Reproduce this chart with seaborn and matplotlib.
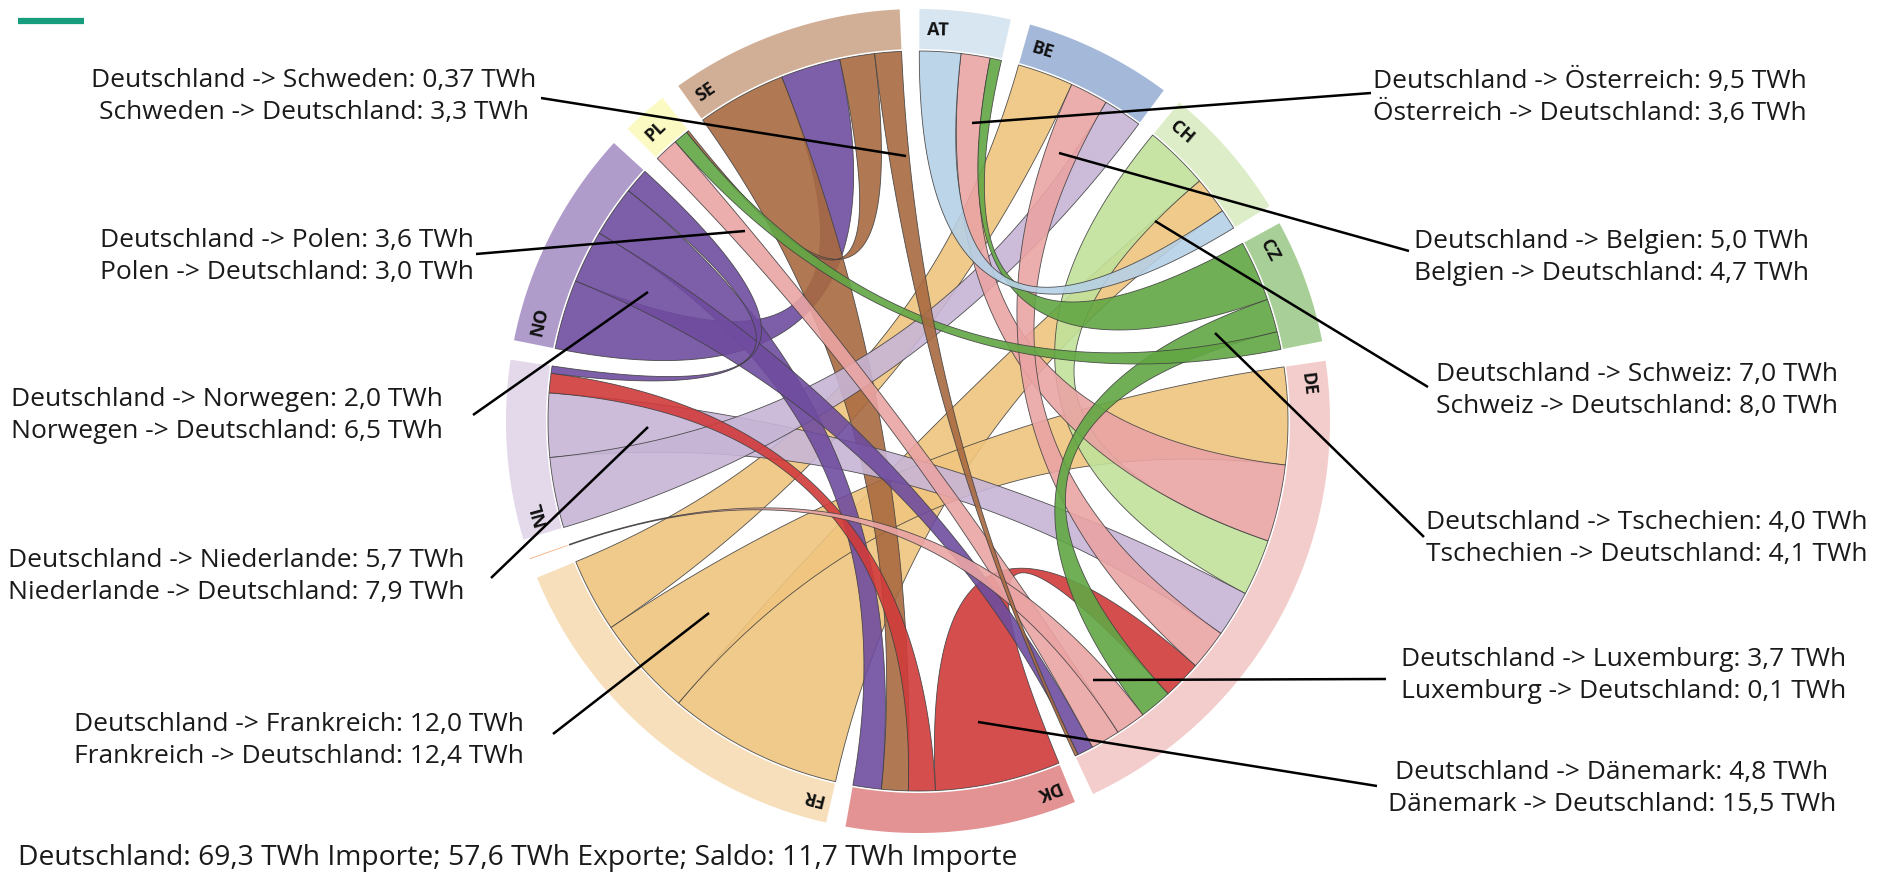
import numpy as np
import matplotlib
matplotlib.use("Agg")
import matplotlib.pyplot as plt
import seaborn as sns

# DATA: physical exports between the countries (TWh), one entry per direction.
# The order of the entries per exporting country is the order of the ribbons on its ring.
countries = ["AT", "BE", "CH", "CZ", "DE", "DK", "FR", "LU", "NL", "NO", "PL", "SE"]

flow_from = ["AT", "AT", "AT",
             "BE", "BE", "BE",
             "CH", "CH", "CH",
             "CZ", "CZ", "CZ",
             "DE", "DE", "DE", "DE", "DE", "DE", "DE", "DE", "DE", "DE", "DE",
             "DK", "DK", "DK", "DK",
             "FR", "FR", "FR",
             "LU",
             "NL", "NL", "NL", "NL",
             "NO", "NO", "NO", "NO",
             "PL", "PL", "PL",
             "SE", "SE", "SE", "SE"]
flow_to = ["CH", "DE", "CZ",
           "FR", "DE", "NL",
           "DE", "FR", "AT",
           "AT", "DE", "PL",
           "FR", "AT", "CH", "NL", "BE", "DK", "CZ", "LU", "PL", "NO", "SE",
           "DE", "NL", "SE", "NO",
           "CH", "DE", "BE",
           "DE",
           "BE", "DE", "DK", "NO",
           "SE", "DE", "DK", "NL",
           "DE", "CZ", "SE",
           "DK", "NO", "PL", "DE"]
flow_twh = [5.1, 3.6, 1.4,
            6.9, 4.7, 4.8,
            8.0, 4.6, 2.5,
            7.5, 4.1, 2.2,
            12.0, 9.5, 7.0, 5.7, 5.0, 4.8, 4.0, 3.7, 3.6, 2.0, 0.37,
            15.5, 3.3, 3.3, 3.5,
            21.6, 12.4, 9.1,
            0.1,
            8.7, 7.9, 2.4, 0.9,
            8.6, 6.5, 6.3, 3.1,
            3.0, 1.8, 0.3,
            11.0, 7.4, 4.3, 3.3]

# German names for the annotations, clockwise order of the notes on each side
left_notes = ["SE", "PL", "NO", "NL", "FR"]
right_notes = ["AT", "BE", "CH", "CZ", "LU", "DK"]
german = {"SE": "Schweden", "PL": "Polen", "NO": "Norwegen", "NL": "Niederlande",
          "FR": "Frankreich", "AT": "Österreich", "BE": "Belgien", "CH": "Schweiz",
          "CZ": "Tschechien", "LU": "Luxemburg", "DK": "Dänemark"}
de_imports = 69.3
de_exports = 57.6

# STYLE
ring_colors = {"AT": "#d7e6f0", "BE": "#a4b9d9", "CH": "#dcedc8", "CZ": "#a9cf98",
               "DE": "#f3cdcc", "DK": "#e39393", "FR": "#f7dfbb", "LU": "#f4b183",
               "NL": "#e3d9ea", "NO": "#b09ccb", "PL": "#fafac2", "SE": "#d1ae96"}
ribbon_colors = {"AT": "#b6d1e6", "BE": "#8fa9d0", "CH": "#c1e19a", "CZ": "#62a744",
                 "DE": "#eaa4a4", "DK": "#d13b3b", "FR": "#efc57f", "LU": "#f4b183",
                 "NL": "#c7b5d6", "NO": "#6f4c9f", "PL": "#f0f0a0", "SE": "#a86a40"}

sns.set_theme(style="white")
plt.rcParams["font.family"] = ["Open Sans", "DejaVu Sans"]

W, H = 1877, 874
fig = plt.figure(figsize=(W / 100, H / 100), dpi=100)
ax = fig.add_axes([0, 0, 1, 1])
ax.set_xlim(0, W)
ax.set_ylim(H, 0)
ax.set_aspect("equal")
ax.axis("off")

cx, cy = 918, 421
R_CHORD, R_IN, R_OUT = 370, 372, 412
GAP = 2.75
START = 0.2


def pt(theta, r):
    t = np.radians(theta)
    return np.array([cx + r * np.sin(t), cy - r * np.cos(t)])


def arc(t0, t1, r, n=50):
    return [pt(t, r) for t in np.linspace(t0, t1, n)]


def bezier(p0, p2, n=80):
    c = np.array([cx, cy])
    s = np.linspace(0, 1, n)[:, None]
    return list((1 - s) ** 2 * p0 + 2 * (1 - s) * s * c + s ** 2 * p2)


# sector sizes = sum of exports
totals = {c: 0.0 for c in countries}
for f, v in zip(flow_from, flow_twh):
    totals[f] += v
deg_per = (360 - GAP * len(countries)) / sum(totals.values())

sector = {}
pos = START
for c in countries:
    sector[c] = (pos, pos + totals[c] * deg_per)
    pos += totals[c] * deg_per + GAP

# end of every directed flow on the ring of its exporter
ends = {}
cursor = {c: sector[c][0] for c in countries}
for f, t, v in zip(flow_from, flow_to, flow_twh):
    a0 = cursor[f]
    a1 = a0 + v * deg_per
    ends[(f, t)] = (a0, a1)
    cursor[f] = a1
val = {(f, t): v for f, t, v in zip(flow_from, flow_to, flow_twh)}

# rings
for c in countries:
    s0, s1 = sector[c]
    poly = np.array(arc(s0, s1, R_OUT) + arc(s1, s0, R_IN))
    ax.fill(poly[:, 0], poly[:, 1], color=ring_colors[c], lw=0, zorder=1)
    if s1 - s0 > 3:
        th = s0 + 1.2
        x, y = pt(th, 391)
        ax.text(x, y, c, rotation=-th, rotation_mode="anchor", ha="left",
                va="center", fontsize=13, fontweight="bold", color="#111111",
                zorder=5)

# ribbons: one per pair, ends sized by each direction, coloured by the net exporter
pairs = []
for f, t in zip(flow_from, flow_to):
    if (t, f) not in pairs:
        pairs.append((f, t))
pairs.sort(key=lambda p: -(val[p] + val[(p[1], p[0])]))
for a, b in pairs:
    a0, a1 = ends[(a, b)]
    b0, b1 = ends[(b, a)]
    owner = a if val[(a, b)] >= val[(b, a)] else b
    poly = (arc(a0, a1, R_CHORD, 20) + bezier(pt(a1, R_CHORD), pt(b0, R_CHORD))
            + arc(b0, b1, R_CHORD, 20) + bezier(pt(b1, R_CHORD), pt(a0, R_CHORD)))
    poly = np.array(poly)
    ax.fill(poly[:, 0], poly[:, 1], facecolor=ribbon_colors[owner], alpha=0.9,
            edgecolor=(0.25, 0.25, 0.25, 0.55), lw=0.6, zorder=2)


def fmt(v):
    v = round(v, 2)
    s = f"{v:.1f}" if round(v, 1) == v else f"{v:.2f}"
    return s.replace(".", ",")


# annotation layout: text centre x, first line y, leader start, leader end
left_layout = [(314, 81, (541, 98), (906, 156)),
               (287, 241, (476, 254), (745, 231)),
               (227, 399, (473, 415), (648, 292)),
               (236, 561, (491, 578), (648, 427)),
               (299, 724, (553, 734), (709, 613))]
right_layout = [(1590, 81, (1371, 93), (972, 123)),
                (1612, 241, (1409, 251), (1059, 153)),
                (1637, 375, (1428, 387), (1155, 221)),
                (1647, 523, (1424, 537), (1215, 333)),
                (1624, 660, (1386, 679), (1093, 680)),
                (1612, 772, (1377, 786), (978, 722))]

for c, (tx, ty, p0, p1) in zip(left_notes + right_notes, left_layout + right_layout):
    name = german[c]
    l1 = f"Deutschland -> {name}: {fmt(val[('DE', c)])} TWh"
    l2 = f"{name} -> Deutschland: {fmt(val[(c, 'DE')])} TWh"
    ax.text(tx, ty, l1, ha="center", va="center", fontsize=19, color="#1a1a1a", zorder=6)
    ax.text(tx, ty + 32, l2, ha="center", va="center", fontsize=19, color="#1a1a1a", zorder=6)
    ax.plot([p0[0], p1[0]], [p0[1], p1[1]], color="black", lw=1.8, zorder=6,
            solid_capstyle="butt")

saldo = round(de_imports - de_exports, 1)
ax.text(18, 858, f"Deutschland: {fmt(de_imports)} TWh Importe; {fmt(de_exports)} TWh Exporte; "
        f"Saldo: {fmt(saldo)} TWh Importe", ha="left", va="center", fontsize=20.3,
        color="#1a1a1a")

ax.plot([18, 84], [21, 21], color="#179c7d", lw=4.5, solid_capstyle="butt")

fig.savefig("out.png", dpi=100)
